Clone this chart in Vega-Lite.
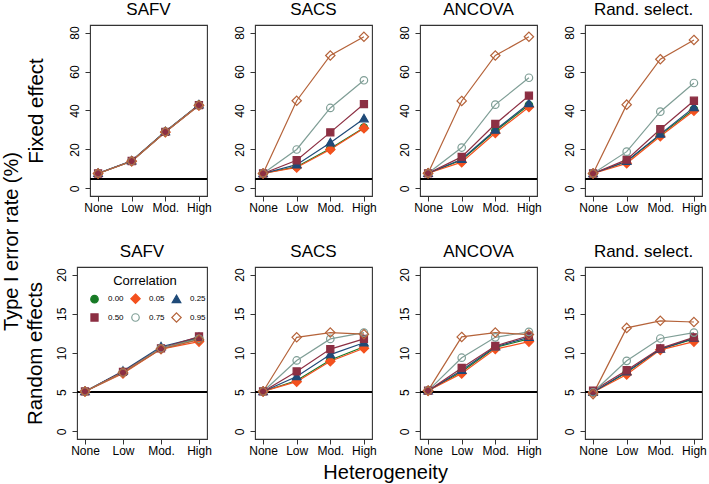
{
"$schema":"https://vega.github.io/schema/vega-lite/v6.json",
"background":"white",
"padding":{"left":2,"top":0,"right":4,"bottom":2},
"config":{
 "font":"Liberation Sans",
 "view":{"stroke":"#333","strokeWidth":1.1},
 "title":{"fontSize":17,"fontWeight":"normal","color":"black","offset":6},
 "axis":{"domain":false,"grid":false,"tickColor":"#333","tickSize":5,"labelColor":"black","labelFontSize":12,"titleColor":"black","titleFontWeight":"normal","titleFontSize":20.5},
 "axisX":{"labelAngle":0,"labelPadding":1},
 "axisY":{"labelAngle":270,"labelAlign":"center","labelBaseline":"bottom","labelPadding":4},
 "range":{"category":["#177a25","#f4511e","#1f4a78","#8c2f43","#7f9e96","#b5633a"],
  "symbol":["M1,0A1,1,0,1,1,-1,0A1,1,0,1,1,1,0Z","M0,-1.25L1.25,0L0,1.25L-1.25,0Z","M0,-1.15L1.15,0.85L-1.15,0.85Z","M-0.95,-0.95H0.95V0.95H-0.95Z","M1,0A1,1,0,1,1,-1,0A1,1,0,1,1,1,0Z","M0,-1.25L1.25,0L0,1.25L-1.25,0Z"]}
},
"title":{"text":"Type I error rate (%)","orient":"left","fontSize":20,"anchor":"middle","offset":2},
"datasets":{"d":[
{"r":"F","m":"SAFV","c":"0.00","h":"None","v":7.7},{"r":"F","m":"SAFV","c":"0.00","h":"Low","v":14.1},{"r":"F","m":"SAFV","c":"0.00","h":"Mod.","v":29.1},{"r":"F","m":"SAFV","c":"0.00","h":"High","v":42.9},
{"r":"F","m":"SAFV","c":"0.05","h":"None","v":7.7},{"r":"F","m":"SAFV","c":"0.05","h":"Low","v":14.0},{"r":"F","m":"SAFV","c":"0.05","h":"Mod.","v":28.9},{"r":"F","m":"SAFV","c":"0.05","h":"High","v":42.6},
{"r":"F","m":"SAFV","c":"0.25","h":"None","v":7.8},{"r":"F","m":"SAFV","c":"0.25","h":"Low","v":14.2},{"r":"F","m":"SAFV","c":"0.25","h":"Mod.","v":29.2},{"r":"F","m":"SAFV","c":"0.25","h":"High","v":43.0},
{"r":"F","m":"SAFV","c":"0.50","h":"None","v":7.7},{"r":"F","m":"SAFV","c":"0.50","h":"Low","v":14.1},{"r":"F","m":"SAFV","c":"0.50","h":"Mod.","v":29.0},{"r":"F","m":"SAFV","c":"0.50","h":"High","v":42.8},
{"r":"F","m":"SAFV","c":"0.75","h":"None","v":7.7},{"r":"F","m":"SAFV","c":"0.75","h":"Low","v":14.0},{"r":"F","m":"SAFV","c":"0.75","h":"Mod.","v":29.0},{"r":"F","m":"SAFV","c":"0.75","h":"High","v":42.7},
{"r":"F","m":"SAFV","c":"0.95","h":"None","v":7.7},{"r":"F","m":"SAFV","c":"0.95","h":"Low","v":14.0},{"r":"F","m":"SAFV","c":"0.95","h":"Mod.","v":29.0},{"r":"F","m":"SAFV","c":"0.95","h":"High","v":42.7},
{"r":"F","m":"SACS","c":"0.00","h":"None","v":7.7},{"r":"F","m":"SACS","c":"0.00","h":"Low","v":11.2},{"r":"F","m":"SACS","c":"0.00","h":"Mod.","v":20.5},{"r":"F","m":"SACS","c":"0.00","h":"High","v":31.2},
{"r":"F","m":"SACS","c":"0.05","h":"None","v":7.7},{"r":"F","m":"SACS","c":"0.05","h":"Low","v":10.8},{"r":"F","m":"SACS","c":"0.05","h":"Mod.","v":20.0},{"r":"F","m":"SACS","c":"0.05","h":"High","v":30.9},
{"r":"F","m":"SACS","c":"0.25","h":"None","v":7.7},{"r":"F","m":"SACS","c":"0.25","h":"Low","v":12.2},{"r":"F","m":"SACS","c":"0.25","h":"Mod.","v":23.5},{"r":"F","m":"SACS","c":"0.25","h":"High","v":35.8},
{"r":"F","m":"SACS","c":"0.50","h":"None","v":7.7},{"r":"F","m":"SACS","c":"0.50","h":"Low","v":14.5},{"r":"F","m":"SACS","c":"0.50","h":"Mod.","v":28.8},{"r":"F","m":"SACS","c":"0.50","h":"High","v":43.3},
{"r":"F","m":"SACS","c":"0.75","h":"None","v":7.7},{"r":"F","m":"SACS","c":"0.75","h":"Low","v":20.0},{"r":"F","m":"SACS","c":"0.75","h":"Mod.","v":41.3},{"r":"F","m":"SACS","c":"0.75","h":"High","v":55.5},
{"r":"F","m":"SACS","c":"0.95","h":"None","v":7.7},{"r":"F","m":"SACS","c":"0.95","h":"Low","v":45.0},{"r":"F","m":"SACS","c":"0.95","h":"Mod.","v":68.2},{"r":"F","m":"SACS","c":"0.95","h":"High","v":77.8},
{"r":"F","m":"ANCOVA","c":"0.00","h":"None","v":7.8},{"r":"F","m":"ANCOVA","c":"0.00","h":"Low","v":14.6},{"r":"F","m":"ANCOVA","c":"0.00","h":"Mod.","v":29.5},{"r":"F","m":"ANCOVA","c":"0.00","h":"High","v":42.8},
{"r":"F","m":"ANCOVA","c":"0.05","h":"None","v":7.8},{"r":"F","m":"ANCOVA","c":"0.05","h":"Low","v":13.5},{"r":"F","m":"ANCOVA","c":"0.05","h":"Mod.","v":28.5},{"r":"F","m":"ANCOVA","c":"0.05","h":"High","v":41.8},
{"r":"F","m":"ANCOVA","c":"0.25","h":"None","v":7.8},{"r":"F","m":"ANCOVA","c":"0.25","h":"Low","v":15.0},{"r":"F","m":"ANCOVA","c":"0.25","h":"Mod.","v":30.0},{"r":"F","m":"ANCOVA","c":"0.25","h":"High","v":43.6},
{"r":"F","m":"ANCOVA","c":"0.50","h":"None","v":7.8},{"r":"F","m":"ANCOVA","c":"0.50","h":"Low","v":16.2},{"r":"F","m":"ANCOVA","c":"0.50","h":"Mod.","v":33.1},{"r":"F","m":"ANCOVA","c":"0.50","h":"High","v":47.6},
{"r":"F","m":"ANCOVA","c":"0.75","h":"None","v":7.8},{"r":"F","m":"ANCOVA","c":"0.75","h":"Low","v":21.0},{"r":"F","m":"ANCOVA","c":"0.75","h":"Mod.","v":43.0},{"r":"F","m":"ANCOVA","c":"0.75","h":"High","v":56.8},
{"r":"F","m":"ANCOVA","c":"0.95","h":"None","v":7.8},{"r":"F","m":"ANCOVA","c":"0.95","h":"Low","v":44.9},{"r":"F","m":"ANCOVA","c":"0.95","h":"Mod.","v":68.2},{"r":"F","m":"ANCOVA","c":"0.95","h":"High","v":77.8},
{"r":"F","m":"Rand","c":"0.00","h":"None","v":7.7},{"r":"F","m":"Rand","c":"0.00","h":"Low","v":13.8},{"r":"F","m":"Rand","c":"0.00","h":"Mod.","v":27.5},{"r":"F","m":"Rand","c":"0.00","h":"High","v":40.6},
{"r":"F","m":"Rand","c":"0.05","h":"None","v":7.7},{"r":"F","m":"Rand","c":"0.05","h":"Low","v":12.9},{"r":"F","m":"Rand","c":"0.05","h":"Mod.","v":26.8},{"r":"F","m":"Rand","c":"0.05","h":"High","v":39.9},
{"r":"F","m":"Rand","c":"0.25","h":"None","v":7.7},{"r":"F","m":"Rand","c":"0.25","h":"Low","v":14.0},{"r":"F","m":"Rand","c":"0.25","h":"Mod.","v":27.9},{"r":"F","m":"Rand","c":"0.25","h":"High","v":41.6},
{"r":"F","m":"Rand","c":"0.50","h":"None","v":7.7},{"r":"F","m":"Rand","c":"0.50","h":"Low","v":14.8},{"r":"F","m":"Rand","c":"0.50","h":"Mod.","v":30.4},{"r":"F","m":"Rand","c":"0.50","h":"High","v":45.0},
{"r":"F","m":"Rand","c":"0.75","h":"None","v":7.7},{"r":"F","m":"Rand","c":"0.75","h":"Low","v":18.9},{"r":"F","m":"Rand","c":"0.75","h":"Mod.","v":39.4},{"r":"F","m":"Rand","c":"0.75","h":"High","v":54.1},
{"r":"F","m":"Rand","c":"0.95","h":"None","v":7.7},{"r":"F","m":"Rand","c":"0.95","h":"Low","v":43.0},{"r":"F","m":"Rand","c":"0.95","h":"Mod.","v":66.3},{"r":"F","m":"Rand","c":"0.95","h":"High","v":76.2},
{"r":"R","m":"SAFV","c":"0.00","h":"None","v":5.1},{"r":"R","m":"SAFV","c":"0.00","h":"Low","v":7.6},{"r":"R","m":"SAFV","c":"0.00","h":"Mod.","v":10.6},{"r":"R","m":"SAFV","c":"0.00","h":"High","v":11.9},
{"r":"R","m":"SAFV","c":"0.05","h":"None","v":5.1},{"r":"R","m":"SAFV","c":"0.05","h":"Low","v":7.4},{"r":"R","m":"SAFV","c":"0.05","h":"Mod.","v":10.5},{"r":"R","m":"SAFV","c":"0.05","h":"High","v":11.45},
{"r":"R","m":"SAFV","c":"0.25","h":"None","v":5.1},{"r":"R","m":"SAFV","c":"0.25","h":"Low","v":7.7},{"r":"R","m":"SAFV","c":"0.25","h":"Mod.","v":10.8},{"r":"R","m":"SAFV","c":"0.25","h":"High","v":12.0},
{"r":"R","m":"SAFV","c":"0.50","h":"None","v":5.1},{"r":"R","m":"SAFV","c":"0.50","h":"Low","v":7.6},{"r":"R","m":"SAFV","c":"0.50","h":"Mod.","v":10.6},{"r":"R","m":"SAFV","c":"0.50","h":"High","v":12.1},
{"r":"R","m":"SAFV","c":"0.75","h":"None","v":5.1},{"r":"R","m":"SAFV","c":"0.75","h":"Low","v":7.5},{"r":"R","m":"SAFV","c":"0.75","h":"Mod.","v":10.6},{"r":"R","m":"SAFV","c":"0.75","h":"High","v":11.8},
{"r":"R","m":"SAFV","c":"0.95","h":"None","v":5.1},{"r":"R","m":"SAFV","c":"0.95","h":"Low","v":7.5},{"r":"R","m":"SAFV","c":"0.95","h":"Mod.","v":10.5},{"r":"R","m":"SAFV","c":"0.95","h":"High","v":11.7},
{"r":"R","m":"SACS","c":"0.00","h":"None","v":5.1},{"r":"R","m":"SACS","c":"0.00","h":"Low","v":6.5},{"r":"R","m":"SACS","c":"0.00","h":"Mod.","v":9.1},{"r":"R","m":"SACS","c":"0.00","h":"High","v":10.8},
{"r":"R","m":"SACS","c":"0.05","h":"None","v":5.1},{"r":"R","m":"SACS","c":"0.05","h":"Low","v":6.35},{"r":"R","m":"SACS","c":"0.05","h":"Mod.","v":8.95},{"r":"R","m":"SACS","c":"0.05","h":"High","v":10.6},
{"r":"R","m":"SACS","c":"0.25","h":"None","v":5.1},{"r":"R","m":"SACS","c":"0.25","h":"Low","v":7.0},{"r":"R","m":"SACS","c":"0.25","h":"Mod.","v":9.8},{"r":"R","m":"SACS","c":"0.25","h":"High","v":11.3},
{"r":"R","m":"SACS","c":"0.50","h":"None","v":5.1},{"r":"R","m":"SACS","c":"0.50","h":"Low","v":7.65},{"r":"R","m":"SACS","c":"0.50","h":"Mod.","v":10.5},{"r":"R","m":"SACS","c":"0.50","h":"High","v":11.8},
{"r":"R","m":"SACS","c":"0.75","h":"None","v":5.1},{"r":"R","m":"SACS","c":"0.75","h":"Low","v":9.05},{"r":"R","m":"SACS","c":"0.75","h":"Mod.","v":11.8},{"r":"R","m":"SACS","c":"0.75","h":"High","v":12.6},
{"r":"R","m":"SACS","c":"0.95","h":"None","v":5.1},{"r":"R","m":"SACS","c":"0.95","h":"Low","v":12.0},{"r":"R","m":"SACS","c":"0.95","h":"Mod.","v":12.6},{"r":"R","m":"SACS","c":"0.95","h":"High","v":12.4},
{"r":"R","m":"ANCOVA","c":"0.00","h":"None","v":5.2},{"r":"R","m":"ANCOVA","c":"0.00","h":"Low","v":7.6},{"r":"R","m":"ANCOVA","c":"0.00","h":"Mod.","v":10.7},{"r":"R","m":"ANCOVA","c":"0.00","h":"High","v":11.8},
{"r":"R","m":"ANCOVA","c":"0.05","h":"None","v":5.2},{"r":"R","m":"ANCOVA","c":"0.05","h":"Low","v":7.4},{"r":"R","m":"ANCOVA","c":"0.05","h":"Mod.","v":10.5},{"r":"R","m":"ANCOVA","c":"0.05","h":"High","v":11.45},
{"r":"R","m":"ANCOVA","c":"0.25","h":"None","v":5.2},{"r":"R","m":"ANCOVA","c":"0.25","h":"Low","v":7.8},{"r":"R","m":"ANCOVA","c":"0.25","h":"Mod.","v":10.8},{"r":"R","m":"ANCOVA","c":"0.25","h":"High","v":12.0},
{"r":"R","m":"ANCOVA","c":"0.50","h":"None","v":5.2},{"r":"R","m":"ANCOVA","c":"0.50","h":"Low","v":8.1},{"r":"R","m":"ANCOVA","c":"0.50","h":"Mod.","v":10.9},{"r":"R","m":"ANCOVA","c":"0.50","h":"High","v":12.2},
{"r":"R","m":"ANCOVA","c":"0.75","h":"None","v":5.2},{"r":"R","m":"ANCOVA","c":"0.75","h":"Low","v":9.4},{"r":"R","m":"ANCOVA","c":"0.75","h":"Mod.","v":12.0},{"r":"R","m":"ANCOVA","c":"0.75","h":"High","v":12.7},
{"r":"R","m":"ANCOVA","c":"0.95","h":"None","v":5.2},{"r":"R","m":"ANCOVA","c":"0.95","h":"Low","v":12.05},{"r":"R","m":"ANCOVA","c":"0.95","h":"Mod.","v":12.6},{"r":"R","m":"ANCOVA","c":"0.95","h":"High","v":12.35},
{"r":"R","m":"Rand","c":"0.00","h":"None","v":5.0},{"r":"R","m":"Rand","c":"0.00","h":"Low","v":7.5},{"r":"R","m":"Rand","c":"0.00","h":"Mod.","v":10.5},{"r":"R","m":"Rand","c":"0.00","h":"High","v":11.8},
{"r":"R","m":"Rand","c":"0.05","h":"None","v":5.0},{"r":"R","m":"Rand","c":"0.05","h":"Low","v":7.25},{"r":"R","m":"Rand","c":"0.05","h":"Mod.","v":10.4},{"r":"R","m":"Rand","c":"0.05","h":"High","v":11.45},
{"r":"R","m":"Rand","c":"0.25","h":"None","v":5.0},{"r":"R","m":"Rand","c":"0.25","h":"Low","v":7.6},{"r":"R","m":"Rand","c":"0.25","h":"Mod.","v":10.5},{"r":"R","m":"Rand","c":"0.25","h":"High","v":11.9},
{"r":"R","m":"Rand","c":"0.50","h":"None","v":5.2},{"r":"R","m":"Rand","c":"0.50","h":"Low","v":7.8},{"r":"R","m":"Rand","c":"0.50","h":"Mod.","v":10.6},{"r":"R","m":"Rand","c":"0.50","h":"High","v":12.0},
{"r":"R","m":"Rand","c":"0.75","h":"None","v":5.0},{"r":"R","m":"Rand","c":"0.75","h":"Low","v":9.0},{"r":"R","m":"Rand","c":"0.75","h":"Mod.","v":11.85},{"r":"R","m":"Rand","c":"0.75","h":"High","v":12.6},
{"r":"R","m":"Rand","c":"0.95","h":"None","v":4.76},{"r":"R","m":"Rand","c":"0.95","h":"Low","v":13.2},{"r":"R","m":"Rand","c":"0.95","h":"Mod.","v":14.1},{"r":"R","m":"Rand","c":"0.95","h":"High","v":13.95}
]},
"data":{"name":"d"},
"resolve":{"scale":{"x":"independent","y":"independent"},"legend":{"shape":"independent","stroke":"independent","fill":"independent","color":"independent"}},
"vconcat":[{
 "title":{"text":"Heterogeneity","orient":"bottom","fontSize":20,"anchor":"middle","offset":6,"dx":20},
 "spacing":28,
 "resolve":{"scale":{"x":"independent","y":"independent"},"legend":{"shape":"independent","stroke":"independent","fill":"independent","color":"independent"}},
 "vconcat":[
 {"spacing":48,"bounds":"flush",
  "resolve":{"scale":{"x":"independent","y":"independent"},"legend":{"shape":"independent","stroke":"independent","fill":"independent","color":"independent"}},
  "hconcat":[
  {"data":{"values":[]},"mark":{"type":"point"},"width":14,"height":171,"view":{"stroke":null}},
  {"title":"SAFV","width":117,"height":171,"transform":[{"filter":"datum.r=='F'&&datum.m=='SAFV'"}],
   "layer":[
    {"mark":{"type":"rule","color":"black","strokeWidth":1},"encoding":{"y":{"datum":5,"type":"quantitative"}}},
    {"mark":{"type":"line","strokeWidth":1.2},"encoding":{"x":{"field":"h","type":"ordinal","sort":["None","Low","Mod.","High"],"scale":{"type":"point","padding":0.24},"title":null},"y":{"field":"v","type":"quantitative","scale":{"domain":[-3.85,83.85],"nice":false,"zero":false},"axis":{"values":[0,20,40,60,80],"titlePadding":21.5},"title":"Fixed effect"},"color":{"field":"c","type":"nominal","legend":null}}},
    {"mark":{"type":"point","size":56,"strokeWidth":1.2,"opacity":1},"encoding":{"x":{"field":"h","type":"ordinal","sort":["None","Low","Mod.","High"],"scale":{"type":"point","padding":0.24},"title":null},"y":{"field":"v","type":"quantitative","scale":{"domain":[-3.85,83.85],"nice":false,"zero":false},"axis":{"values":[0,20,40,60,80],"titlePadding":21.5},"title":"Fixed effect"},"shape":{"field":"c","type":"nominal","legend":null},"stroke":{"field":"c","type":"nominal","legend":null},"fill":{"field":"c","type":"nominal","scale":{"range":["#177a25","#f4511e","#1f4a78","#8c2f43","transparent","transparent"]},"legend":null}}}
   ]},
  {"title":"SACS","width":117,"height":171,"transform":[{"filter":"datum.r=='F'&&datum.m=='SACS'"}],
   "layer":[
    {"mark":{"type":"rule","color":"black","strokeWidth":1},"encoding":{"y":{"datum":5,"type":"quantitative"}}},
    {"mark":{"type":"line","strokeWidth":1.2},"encoding":{"x":{"field":"h","type":"ordinal","sort":["None","Low","Mod.","High"],"scale":{"type":"point","padding":0.24},"title":null},"y":{"field":"v","type":"quantitative","scale":{"domain":[-3.85,83.85],"nice":false,"zero":false},"axis":{"values":[0,20,40,60,80]},"title":null},"color":{"field":"c","type":"nominal","legend":null}}},
    {"mark":{"type":"point","size":56,"strokeWidth":1.2,"opacity":1},"encoding":{"x":{"field":"h","type":"ordinal","sort":["None","Low","Mod.","High"],"scale":{"type":"point","padding":0.24},"title":null},"y":{"field":"v","type":"quantitative","scale":{"domain":[-3.85,83.85],"nice":false,"zero":false},"axis":{"values":[0,20,40,60,80]},"title":null},"shape":{"field":"c","type":"nominal","legend":null},"stroke":{"field":"c","type":"nominal","legend":null},"fill":{"field":"c","type":"nominal","scale":{"range":["#177a25","#f4511e","#1f4a78","#8c2f43","transparent","transparent"]},"legend":null}}}
   ]},
  {"title":"ANCOVA","width":117,"height":171,"transform":[{"filter":"datum.r=='F'&&datum.m=='ANCOVA'"}],
   "layer":[
    {"mark":{"type":"rule","color":"black","strokeWidth":1},"encoding":{"y":{"datum":5,"type":"quantitative"}}},
    {"mark":{"type":"line","strokeWidth":1.2},"encoding":{"x":{"field":"h","type":"ordinal","sort":["None","Low","Mod.","High"],"scale":{"type":"point","padding":0.24},"title":null},"y":{"field":"v","type":"quantitative","scale":{"domain":[-3.85,83.85],"nice":false,"zero":false},"axis":{"values":[0,20,40,60,80]},"title":null},"color":{"field":"c","type":"nominal","legend":null}}},
    {"mark":{"type":"point","size":56,"strokeWidth":1.2,"opacity":1},"encoding":{"x":{"field":"h","type":"ordinal","sort":["None","Low","Mod.","High"],"scale":{"type":"point","padding":0.24},"title":null},"y":{"field":"v","type":"quantitative","scale":{"domain":[-3.85,83.85],"nice":false,"zero":false},"axis":{"values":[0,20,40,60,80]},"title":null},"shape":{"field":"c","type":"nominal","legend":null},"stroke":{"field":"c","type":"nominal","legend":null},"fill":{"field":"c","type":"nominal","scale":{"range":["#177a25","#f4511e","#1f4a78","#8c2f43","transparent","transparent"]},"legend":null}}}
   ]},
  {"title":"Rand. select.","width":117,"height":171,"transform":[{"filter":"datum.r=='F'&&datum.m=='Rand'"}],
   "layer":[
    {"mark":{"type":"rule","color":"black","strokeWidth":1},"encoding":{"y":{"datum":5,"type":"quantitative"}}},
    {"mark":{"type":"line","strokeWidth":1.2},"encoding":{"x":{"field":"h","type":"ordinal","sort":["None","Low","Mod.","High"],"scale":{"type":"point","padding":0.24},"title":null},"y":{"field":"v","type":"quantitative","scale":{"domain":[-3.85,83.85],"nice":false,"zero":false},"axis":{"values":[0,20,40,60,80]},"title":null},"color":{"field":"c","type":"nominal","legend":null}}},
    {"mark":{"type":"point","size":56,"strokeWidth":1.2,"opacity":1},"encoding":{"x":{"field":"h","type":"ordinal","sort":["None","Low","Mod.","High"],"scale":{"type":"point","padding":0.24},"title":null},"y":{"field":"v","type":"quantitative","scale":{"domain":[-3.85,83.85],"nice":false,"zero":false},"axis":{"values":[0,20,40,60,80]},"title":null},"shape":{"field":"c","type":"nominal","legend":null},"stroke":{"field":"c","type":"nominal","legend":null},"fill":{"field":"c","type":"nominal","scale":{"range":["#177a25","#f4511e","#1f4a78","#8c2f43","transparent","transparent"]},"legend":null}}}
   ]}
 ]},
 {"spacing":48,"bounds":"flush",
  "resolve":{"scale":{"x":"independent","y":"independent"},"legend":{"shape":"independent","stroke":"independent","fill":"independent","color":"independent"}},
  "hconcat":[
  {"data":{"values":[]},"mark":{"type":"point"},"width":1,"height":172,"view":{"stroke":null}},
  {"title":"SAFV","width":130,"height":172,"transform":[{"filter":"datum.r=='R'&&datum.m=='SAFV'"}],
   "layer":[
    {"mark":{"type":"rule","color":"black","strokeWidth":1},"encoding":{"y":{"datum":5,"type":"quantitative"}}},
    {"mark":{"type":"line","strokeWidth":1.2},"encoding":{"x":{"field":"h","type":"ordinal","sort":["None","Low","Mod.","High"],"scale":{"type":"point","padding":0.21},"title":null},"y":{"field":"v","type":"quantitative","scale":{"domain":[-0.96,20.96],"nice":false,"zero":false},"axis":{"values":[0,5,10,15,20],"titlePadding":10},"title":"Random effects"},"color":{"field":"c","type":"nominal","legend":null}}},
    {"mark":{"type":"point","size":56,"strokeWidth":1.2,"opacity":1},"encoding":{"x":{"field":"h","type":"ordinal","sort":["None","Low","Mod.","High"],"scale":{"type":"point","padding":0.21},"title":null},"y":{"field":"v","type":"quantitative","scale":{"domain":[-0.96,20.96],"nice":false,"zero":false},"axis":{"values":[0,5,10,15,20],"titlePadding":10},"title":"Random effects"},
     "shape":{"field":"c","type":"nominal","legend":{"title":"Correlation","orient":"none","legendX":7,"legendY":8,"direction":"horizontal","columns":3,"padding":0,"titleFontSize":13,"titleFontWeight":"normal","titleColor":"black","titleAnchor":"middle","titlePadding":6,"labelFontSize":8,"labelColor":"black","labelOffset":9,"symbolOffset":6,"symbolSize":56,"symbolStrokeWidth":1.2,"columnPadding":1,"rowPadding":4}},
     "stroke":{"field":"c","type":"nominal","legend":{"title":"Correlation","orient":"none","legendX":7,"legendY":8,"direction":"horizontal","columns":3}},
     "fill":{"field":"c","type":"nominal","scale":{"range":["#177a25","#f4511e","#1f4a78","#8c2f43","transparent","transparent"]},"legend":{"title":"Correlation","orient":"none","legendX":7,"legendY":8,"direction":"horizontal","columns":3}}}}
   ]},
  {"title":"SACS","width":117,"height":172,"transform":[{"filter":"datum.r=='R'&&datum.m=='SACS'"}],
   "layer":[
    {"mark":{"type":"rule","color":"black","strokeWidth":1},"encoding":{"y":{"datum":5,"type":"quantitative"}}},
    {"mark":{"type":"line","strokeWidth":1.2},"encoding":{"x":{"field":"h","type":"ordinal","sort":["None","Low","Mod.","High"],"scale":{"type":"point","padding":0.24},"title":null},"y":{"field":"v","type":"quantitative","scale":{"domain":[-0.96,20.96],"nice":false,"zero":false},"axis":{"values":[0,5,10,15,20]},"title":null},"color":{"field":"c","type":"nominal","legend":null}}},
    {"mark":{"type":"point","size":56,"strokeWidth":1.2,"opacity":1},"encoding":{"x":{"field":"h","type":"ordinal","sort":["None","Low","Mod.","High"],"scale":{"type":"point","padding":0.24},"title":null},"y":{"field":"v","type":"quantitative","scale":{"domain":[-0.96,20.96],"nice":false,"zero":false},"axis":{"values":[0,5,10,15,20]},"title":null},"shape":{"field":"c","type":"nominal","legend":null},"stroke":{"field":"c","type":"nominal","legend":null},"fill":{"field":"c","type":"nominal","scale":{"range":["#177a25","#f4511e","#1f4a78","#8c2f43","transparent","transparent"]},"legend":null}}}
   ]},
  {"title":"ANCOVA","width":117,"height":172,"transform":[{"filter":"datum.r=='R'&&datum.m=='ANCOVA'"}],
   "layer":[
    {"mark":{"type":"rule","color":"black","strokeWidth":1},"encoding":{"y":{"datum":5,"type":"quantitative"}}},
    {"mark":{"type":"line","strokeWidth":1.2},"encoding":{"x":{"field":"h","type":"ordinal","sort":["None","Low","Mod.","High"],"scale":{"type":"point","padding":0.24},"title":null},"y":{"field":"v","type":"quantitative","scale":{"domain":[-0.96,20.96],"nice":false,"zero":false},"axis":{"values":[0,5,10,15,20]},"title":null},"color":{"field":"c","type":"nominal","legend":null}}},
    {"mark":{"type":"point","size":56,"strokeWidth":1.2,"opacity":1},"encoding":{"x":{"field":"h","type":"ordinal","sort":["None","Low","Mod.","High"],"scale":{"type":"point","padding":0.24},"title":null},"y":{"field":"v","type":"quantitative","scale":{"domain":[-0.96,20.96],"nice":false,"zero":false},"axis":{"values":[0,5,10,15,20]},"title":null},"shape":{"field":"c","type":"nominal","legend":null},"stroke":{"field":"c","type":"nominal","legend":null},"fill":{"field":"c","type":"nominal","scale":{"range":["#177a25","#f4511e","#1f4a78","#8c2f43","transparent","transparent"]},"legend":null}}}
   ]},
  {"title":"Rand. select.","width":117,"height":172,"transform":[{"filter":"datum.r=='R'&&datum.m=='Rand'"}],
   "layer":[
    {"mark":{"type":"rule","color":"black","strokeWidth":1},"encoding":{"y":{"datum":5,"type":"quantitative"}}},
    {"mark":{"type":"line","strokeWidth":1.2},"encoding":{"x":{"field":"h","type":"ordinal","sort":["None","Low","Mod.","High"],"scale":{"type":"point","padding":0.24},"title":null},"y":{"field":"v","type":"quantitative","scale":{"domain":[-0.96,20.96],"nice":false,"zero":false},"axis":{"values":[0,5,10,15,20]},"title":null},"color":{"field":"c","type":"nominal","legend":null}}},
    {"mark":{"type":"point","size":56,"strokeWidth":1.2,"opacity":1},"encoding":{"x":{"field":"h","type":"ordinal","sort":["None","Low","Mod.","High"],"scale":{"type":"point","padding":0.24},"title":null},"y":{"field":"v","type":"quantitative","scale":{"domain":[-0.96,20.96],"nice":false,"zero":false},"axis":{"values":[0,5,10,15,20]},"title":null},"shape":{"field":"c","type":"nominal","legend":null},"stroke":{"field":"c","type":"nominal","legend":null},"fill":{"field":"c","type":"nominal","scale":{"range":["#177a25","#f4511e","#1f4a78","#8c2f43","transparent","transparent"]},"legend":null}}}
   ]}
 ]}
 ]
}]
}
